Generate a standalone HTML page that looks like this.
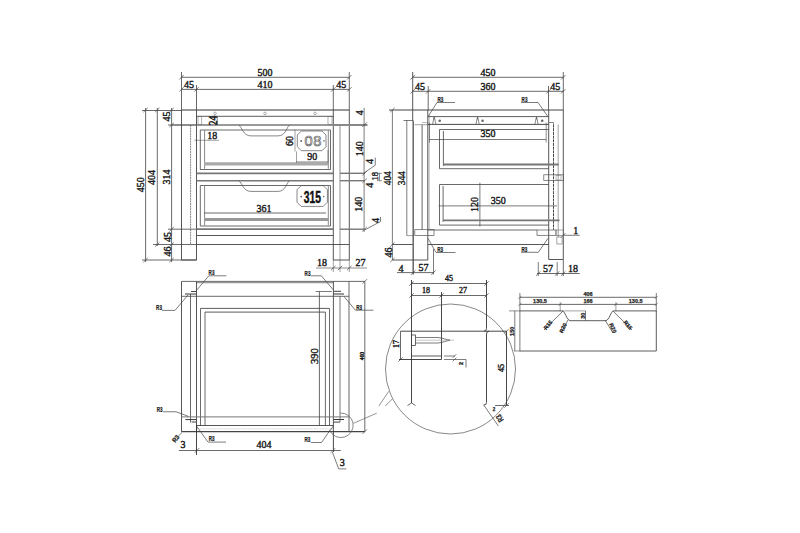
<!DOCTYPE html>
<html><head><meta charset="utf-8"><style>
html,body{margin:0;padding:0;background:#fff;width:800px;height:533px;overflow:hidden}
svg{display:block}
.t{font-family:"Liberation Serif",serif;fill:#1a1a1a;stroke:#1a1a1a;stroke-width:0.4px}
.r{font-family:"Liberation Sans",sans-serif;font-weight:bold;fill:#222;stroke:#222;stroke-width:0.25px}
.b{font-family:"Liberation Sans",sans-serif;font-weight:bold;fill:#111}
</style></head><body>
<svg width="800" height="533" viewBox="0 0 800 533">
<rect width="800" height="533" fill="#fff"/>
<line x1="181.5" y1="77.3" x2="349.3" y2="77.3" stroke="#444" stroke-width="0.8"/>
<line x1="181.5" y1="89.4" x2="349.3" y2="89.4" stroke="#444" stroke-width="0.8"/>
<line x1="196.5" y1="85" x2="196.5" y2="110" stroke="#444" stroke-width="0.8"/>
<line x1="333.3" y1="85" x2="333.3" y2="110" stroke="#444" stroke-width="0.8"/>
<line x1="181.5" y1="72" x2="181.5" y2="110" stroke="#444" stroke-width="0.8"/>
<line x1="349.3" y1="72" x2="349.3" y2="110" stroke="#444" stroke-width="0.8"/>
<line x1="179.3" y1="79.5" x2="183.7" y2="75.1" stroke="#444" stroke-width="0.7"/>
<line x1="347.1" y1="79.5" x2="351.5" y2="75.1" stroke="#444" stroke-width="0.7"/>
<line x1="179.3" y1="91.60000000000001" x2="183.7" y2="87.2" stroke="#444" stroke-width="0.7"/>
<line x1="194.3" y1="91.60000000000001" x2="198.7" y2="87.2" stroke="#444" stroke-width="0.7"/>
<line x1="331.1" y1="91.60000000000001" x2="335.5" y2="87.2" stroke="#444" stroke-width="0.7"/>
<line x1="347.1" y1="91.60000000000001" x2="351.5" y2="87.2" stroke="#444" stroke-width="0.7"/>
<text class="t" x="265" y="72.6" font-size="10" text-anchor="middle" dominant-baseline="central">500</text>
<text class="t" x="189" y="84.5" font-size="10" text-anchor="middle" dominant-baseline="central">45</text>
<text class="t" x="265" y="84.2" font-size="10" text-anchor="middle" dominant-baseline="central">410</text>
<text class="t" x="341.3" y="84.5" font-size="10" text-anchor="middle" dominant-baseline="central">45</text>
<line x1="145.6" y1="108" x2="145.6" y2="262" stroke="#444" stroke-width="0.8"/>
<line x1="157.3" y1="108" x2="157.3" y2="246" stroke="#444" stroke-width="0.8"/>
<line x1="171.6" y1="108" x2="171.6" y2="262" stroke="#444" stroke-width="0.8"/>
<line x1="142" y1="110.5" x2="181.5" y2="110.5" stroke="#444" stroke-width="0.8"/>
<line x1="168" y1="125" x2="196.5" y2="125" stroke="#444" stroke-width="0.8"/>
<line x1="168" y1="229.2" x2="196.5" y2="229.2" stroke="#444" stroke-width="0.8"/>
<line x1="153" y1="244.5" x2="196.5" y2="244.5" stroke="#444" stroke-width="0.8"/>
<line x1="142" y1="260" x2="196.5" y2="260" stroke="#444" stroke-width="0.8"/>
<line x1="143.4" y1="112.2" x2="147.79999999999998" y2="107.8" stroke="#444" stroke-width="0.7"/>
<line x1="143.4" y1="262.2" x2="147.79999999999998" y2="257.8" stroke="#444" stroke-width="0.7"/>
<line x1="155.10000000000002" y1="112.2" x2="159.5" y2="107.8" stroke="#444" stroke-width="0.7"/>
<line x1="155.10000000000002" y1="246.7" x2="159.5" y2="242.3" stroke="#444" stroke-width="0.7"/>
<line x1="169.4" y1="112.2" x2="173.79999999999998" y2="107.8" stroke="#444" stroke-width="0.7"/>
<line x1="169.4" y1="127.2" x2="173.79999999999998" y2="122.8" stroke="#444" stroke-width="0.7"/>
<line x1="169.4" y1="231.39999999999998" x2="173.79999999999998" y2="227.0" stroke="#444" stroke-width="0.7"/>
<line x1="169.4" y1="246.7" x2="173.79999999999998" y2="242.3" stroke="#444" stroke-width="0.7"/>
<line x1="169.4" y1="262.2" x2="173.79999999999998" y2="257.8" stroke="#444" stroke-width="0.7"/>
<text class="t" x="140.8" y="184.7" font-size="10" text-anchor="middle" dominant-baseline="central" transform="rotate(-90 140.8 184.7)">450</text>
<text class="t" x="151.4" y="177.6" font-size="10" text-anchor="middle" dominant-baseline="central" transform="rotate(-90 151.4 177.6)">404</text>
<text class="t" x="166.8" y="177" font-size="10" text-anchor="middle" dominant-baseline="central" transform="rotate(-90 166.8 177)">314</text>
<text class="t" x="166.7" y="116.5" font-size="10" text-anchor="middle" dominant-baseline="central" transform="rotate(-90 166.7 116.5)">45</text>
<text class="t" x="167" y="237" font-size="10" text-anchor="middle" dominant-baseline="central" transform="rotate(-90 167 237)">45</text>
<text class="t" x="167" y="251.5" font-size="10" text-anchor="middle" dominant-baseline="central" transform="rotate(-90 167 251.5)">46</text>
<line x1="181.5" y1="110" x2="349.3" y2="110" stroke="#333" stroke-width="1.0"/>
<line x1="181.5" y1="110" x2="181.5" y2="260" stroke="#444" stroke-width="0.9"/>
<line x1="349.3" y1="110" x2="349.3" y2="260" stroke="#444" stroke-width="0.9"/>
<line x1="196.5" y1="110" x2="196.5" y2="260" stroke="#444" stroke-width="0.9"/>
<line x1="333.3" y1="110" x2="333.3" y2="260" stroke="#444" stroke-width="0.9"/>
<line x1="190.6" y1="125" x2="190.6" y2="244.5" stroke="#555" stroke-width="0.7" stroke-dasharray="2,0.6"/>
<line x1="340" y1="125" x2="340" y2="244.5" stroke="#444" stroke-width="0.6"/>
<line x1="181.5" y1="260" x2="196.5" y2="260" stroke="#444" stroke-width="0.9"/>
<line x1="333.3" y1="260" x2="349.3" y2="260" stroke="#444" stroke-width="0.9"/>
<line x1="196.5" y1="116.3" x2="333.3" y2="116.3" stroke="#333" stroke-width="0.8"/>
<line x1="171.6" y1="125" x2="196.5" y2="125" stroke="#444" stroke-width="0.7"/>
<line x1="196.5" y1="125" x2="333.3" y2="125" stroke="#777" stroke-width="1.4"/>
<line x1="333.3" y1="125" x2="367.5" y2="125" stroke="#888" stroke-width="1.8"/>
<circle cx="215" cy="113.4" r="1.3" fill="none" stroke="#666" stroke-width="0.5"/>
<circle cx="265" cy="113.4" r="1.3" fill="none" stroke="#666" stroke-width="0.5"/>
<circle cx="315" cy="113.4" r="1.3" fill="none" stroke="#666" stroke-width="0.5"/>
<rect x="198" y="116.3" width="3.8000000000000114" height="8.299999999999997" fill="none" stroke="#666" stroke-width="0.5"/>
<rect x="328" y="116.3" width="4" height="8.299999999999997" fill="none" stroke="#666" stroke-width="0.5"/>
<line x1="217.25" y1="116.3" x2="217.25" y2="125" stroke="#444" stroke-width="0.6"/>
<text class="t" transform="translate(212.2,120.6) rotate(-90) scale(1,1.3)" font-size="9.5" text-anchor="middle" dominant-baseline="central">24</text>
<path d="M238.75,125 C242,127 243,135.9 251,135.9 L278,135.9 C286,135.9 286.5,127 289.5,125" fill="none" stroke="#555" stroke-width="0.7"/>
<line x1="200.3" y1="130" x2="330.5" y2="130" stroke="#444" stroke-width="0.8"/>
<line x1="200.3" y1="130" x2="200.3" y2="169.5" stroke="#444" stroke-width="0.8"/>
<line x1="330.5" y1="130" x2="330.5" y2="169.5" stroke="#444" stroke-width="0.8"/>
<line x1="204.6" y1="130" x2="204.6" y2="168.8" stroke="#888" stroke-width="1.0"/>
<line x1="328.3" y1="130" x2="328.3" y2="168.8" stroke="#888" stroke-width="1.0"/>
<line x1="200.3" y1="169.5" x2="330.5" y2="169.5" stroke="#444" stroke-width="0.8"/>
<line x1="204" y1="163.9" x2="328.3" y2="163.9" stroke="#aaa" stroke-width="3.2"/>
<line x1="196.5" y1="173.3" x2="333.3" y2="173.3" stroke="#777" stroke-width="1.8"/>
<line x1="194.3" y1="140.3" x2="219" y2="140.3" stroke="#444" stroke-width="0.5"/>
<text class="t" x="212.3" y="135.6" font-size="10" text-anchor="middle" dominant-baseline="central">18</text>
<path d="M301.3,131 L322,131 L326,135 L326,146.7 L322,150.7 L301.3,150.7 L297.3,146.7 L297.3,135 Z" fill="none" stroke="#555" stroke-width="0.7"/>
<text x="313.3" y="146.2" font-size="14.6" letter-spacing="0.6" text-anchor="middle" fill="#fff" stroke="#555" stroke-width="0.65" style="font-family:'Liberation Sans',sans-serif">08</text>
<circle cx="301.2" cy="140.9" r="0.9" fill="#555"/><circle cx="324" cy="140.9" r="0.8" fill="#777"/>
<line x1="295" y1="129.8" x2="295" y2="151.5" stroke="#444" stroke-width="0.5"/>
<text class="t" x="289.7" y="141" font-size="10" text-anchor="middle" dominant-baseline="central" transform="rotate(-90 289.7 141)">60</text>
<line x1="296.5" y1="161.8" x2="328" y2="161.8" stroke="#444" stroke-width="0.5"/>
<line x1="296.5" y1="151.5" x2="296.5" y2="163" stroke="#444" stroke-width="0.5"/>
<line x1="328" y1="150" x2="328" y2="163" stroke="#444" stroke-width="0.5"/>
<text class="t" x="312.3" y="156" font-size="10" text-anchor="middle" dominant-baseline="central">90</text>
<line x1="196.5" y1="180.7" x2="333.3" y2="180.7" stroke="#777" stroke-width="1.4"/>
<path d="M238.75,180.6 C242,182.6 243,191.4 251,191.4 L278,191.4 C286,191.4 286.5,182.6 289.5,180.6" fill="none" stroke="#555" stroke-width="0.7"/>
<line x1="200.3" y1="185.5" x2="330.5" y2="185.5" stroke="#444" stroke-width="0.8"/>
<line x1="200.3" y1="185.5" x2="200.3" y2="226" stroke="#444" stroke-width="0.8"/>
<line x1="330.5" y1="185.5" x2="330.5" y2="226" stroke="#444" stroke-width="0.8"/>
<line x1="204.6" y1="185.5" x2="204.6" y2="225.3" stroke="#888" stroke-width="1.0"/>
<line x1="328.3" y1="185.5" x2="328.3" y2="225.3" stroke="#888" stroke-width="1.0"/>
<line x1="200.3" y1="226" x2="330.5" y2="226" stroke="#444" stroke-width="0.8"/>
<line x1="204" y1="219.6" x2="328.3" y2="219.6" stroke="#999" stroke-width="3.0"/>
<line x1="204" y1="213" x2="326" y2="213" stroke="#444" stroke-width="0.8"/>
<text class="t" x="264" y="208.2" font-size="10" text-anchor="middle" dominant-baseline="central">361</text>
<line x1="196.5" y1="229.1" x2="333.3" y2="229.1" stroke="#777" stroke-width="1.8"/>
<line x1="196.5" y1="235.5" x2="333.3" y2="235.5" stroke="#444" stroke-width="0.9"/>
<line x1="196.5" y1="244.5" x2="349.3" y2="244.5" stroke="#444" stroke-width="0.9"/>
<path d="M301.2,185.6 L323.2,185.6 L327.4,189.8 L327.4,202.2 L323.2,206.4 L301.2,206.4 L297,202.2 L297,189.8 Z" fill="none" stroke="#555" stroke-width="0.7"/>
<text class="b" transform="translate(312.35,203) scale(0.6,1)" font-size="17.2" text-anchor="middle" stroke="#111" stroke-width="0.5">315</text>
<circle cx="301.2" cy="196.6" r="0.9" fill="#555"/><circle cx="323.7" cy="196.6" r="0.8" fill="#777"/>
<line x1="364.1" y1="108" x2="364.1" y2="232" stroke="#444" stroke-width="0.7"/>
<line x1="340" y1="173.3" x2="364.6" y2="173.3" stroke="#777" stroke-width="1.4"/>
<line x1="340" y1="180.7" x2="364.6" y2="180.7" stroke="#777" stroke-width="1.4"/>
<line x1="340" y1="229.2" x2="364.6" y2="229.2" stroke="#777" stroke-width="1.4"/>
<line x1="362.40000000000003" y1="126.8" x2="366.8" y2="122.39999999999999" stroke="#444" stroke-width="0.7"/>
<line x1="362.40000000000003" y1="175.5" x2="366.8" y2="171.10000000000002" stroke="#444" stroke-width="0.7"/>
<line x1="362.40000000000003" y1="182.89999999999998" x2="366.8" y2="178.5" stroke="#444" stroke-width="0.7"/>
<line x1="362.40000000000003" y1="231.39999999999998" x2="366.8" y2="227.0" stroke="#444" stroke-width="0.7"/>
<text class="t" x="359.5" y="112.8" font-size="10" text-anchor="middle" dominant-baseline="central" transform="rotate(-90 359.5 112.8)">4</text>
<text class="t" x="359.5" y="148.7" font-size="10" text-anchor="middle" dominant-baseline="central" transform="rotate(-90 359.5 148.7)">140</text>
<text class="t" x="358.7" y="204.3" font-size="10" text-anchor="middle" dominant-baseline="central" transform="rotate(-90 358.7 204.3)">140</text>
<polyline points="364.2,172.8 375.25,165.2 375.25,157.6" fill="none" stroke="#444" stroke-width="0.7"/>
<text class="t" x="370" y="161.4" font-size="10" text-anchor="middle" dominant-baseline="central" transform="rotate(-90 370 161.4)">4</text>
<polyline points="364.6,230 380.5,221.5 380.5,217" fill="none" stroke="#444" stroke-width="0.7"/>
<text class="t" x="375.6" y="220.4" font-size="10" text-anchor="middle" dominant-baseline="central" transform="rotate(-90 375.6 220.4)">4</text>
<line x1="379.5" y1="173.3" x2="379.5" y2="180.7" stroke="#444" stroke-width="0.6"/>
<line x1="377" y1="173.3" x2="382" y2="173.3" stroke="#444" stroke-width="0.6"/>
<line x1="377" y1="180.7" x2="382" y2="180.7" stroke="#444" stroke-width="0.6"/>
<text class="t" x="374.6" y="176.2" font-size="8.5" text-anchor="middle" dominant-baseline="central" transform="rotate(-90 374.6 176.2)">18</text>
<text class="t" x="370" y="185.2" font-size="10" text-anchor="middle" dominant-baseline="central" transform="rotate(-90 370 185.2)">4</text>
<line x1="316" y1="268" x2="367" y2="268" stroke="#444" stroke-width="0.6"/>
<line x1="331.1" y1="270.2" x2="335.5" y2="265.8" stroke="#444" stroke-width="0.7"/>
<line x1="337.8" y1="270.2" x2="342.2" y2="265.8" stroke="#444" stroke-width="0.7"/>
<line x1="347.1" y1="270.2" x2="351.5" y2="265.8" stroke="#444" stroke-width="0.7"/>
<line x1="333.3" y1="260" x2="333.3" y2="272" stroke="#444" stroke-width="0.5"/>
<line x1="340" y1="244.5" x2="340" y2="272" stroke="#444" stroke-width="0.5"/>
<line x1="349.3" y1="260" x2="349.3" y2="272" stroke="#444" stroke-width="0.5"/>
<text class="t" x="322" y="262.2" font-size="10" text-anchor="middle" dominant-baseline="central">18</text>
<text class="t" x="360.4" y="262.4" font-size="10" text-anchor="middle" dominant-baseline="central">27</text>
<line x1="412.7" y1="77.3" x2="563.5" y2="77.3" stroke="#444" stroke-width="0.8"/>
<line x1="412.7" y1="91.3" x2="563.5" y2="91.3" stroke="#444" stroke-width="0.8"/>
<line x1="412.7" y1="72" x2="412.7" y2="120.5" stroke="#444" stroke-width="0.9"/>
<line x1="413.2" y1="120.5" x2="413.2" y2="274.5" stroke="#666" stroke-width="1.5"/>
<line x1="563.3" y1="72" x2="563.3" y2="110" stroke="#444" stroke-width="0.8"/>
<line x1="428.2" y1="86" x2="428.2" y2="110" stroke="#444" stroke-width="0.8"/>
<line x1="548.5" y1="86" x2="548.5" y2="110" stroke="#444" stroke-width="0.8"/>
<line x1="410.5" y1="79.5" x2="414.9" y2="75.1" stroke="#444" stroke-width="0.7"/>
<line x1="561.0999999999999" y1="79.5" x2="565.5" y2="75.1" stroke="#444" stroke-width="0.7"/>
<line x1="410.5" y1="93.5" x2="414.9" y2="89.1" stroke="#444" stroke-width="0.7"/>
<line x1="426.0" y1="93.5" x2="430.4" y2="89.1" stroke="#444" stroke-width="0.7"/>
<line x1="546.3" y1="93.5" x2="550.7" y2="89.1" stroke="#444" stroke-width="0.7"/>
<line x1="561.0999999999999" y1="93.5" x2="565.5" y2="89.1" stroke="#444" stroke-width="0.7"/>
<text class="t" x="488" y="72" font-size="10" text-anchor="middle" dominant-baseline="central">450</text>
<text class="t" x="420" y="86.2" font-size="10" text-anchor="middle" dominant-baseline="central">45</text>
<text class="t" x="488" y="86.2" font-size="10" text-anchor="middle" dominant-baseline="central">360</text>
<text class="t" x="555.3" y="86.2" font-size="10" text-anchor="middle" dominant-baseline="central">45</text>
<line x1="389" y1="110" x2="563.3" y2="110" stroke="#444" stroke-width="1.0"/>
<line x1="392.4" y1="110" x2="392.4" y2="260" stroke="#444" stroke-width="0.7"/>
<line x1="406.8" y1="120.2" x2="406.8" y2="235.6" stroke="#444" stroke-width="0.7"/>
<line x1="403.5" y1="120.5" x2="413" y2="120.5" stroke="#444" stroke-width="0.7"/>
<line x1="406.8" y1="235.6" x2="414" y2="235.6" stroke="#444" stroke-width="0.5"/>
<line x1="390.2" y1="112.2" x2="394.59999999999997" y2="107.8" stroke="#444" stroke-width="0.7"/>
<line x1="390.2" y1="246.7" x2="394.59999999999997" y2="242.3" stroke="#444" stroke-width="0.7"/>
<line x1="390.2" y1="262.2" x2="394.59999999999997" y2="257.8" stroke="#444" stroke-width="0.7"/>
<line x1="422.1" y1="124.6" x2="422.1" y2="229.7" stroke="#555" stroke-width="0.9"/>
<line x1="414.6" y1="124.7" x2="428" y2="124.7" stroke="#777" stroke-width="0.7"/>
<line x1="422" y1="122.5" x2="428" y2="122.5" stroke="#777" stroke-width="0.5"/>
<line x1="429.2" y1="115" x2="429.2" y2="229.7" stroke="#777" stroke-width="0.5"/>
<line x1="427.8" y1="110" x2="427.8" y2="260" stroke="#444" stroke-width="0.9"/>
<text class="t" x="388" y="178.2" font-size="9.3" text-anchor="middle" dominant-baseline="central" transform="rotate(-90 388 178.2)">404</text>
<text class="t" x="401.9" y="178.2" font-size="9.3" text-anchor="middle" dominant-baseline="central" transform="rotate(-90 401.9 178.2)">344</text>
<text class="t" x="388.2" y="252.4" font-size="10" text-anchor="middle" dominant-baseline="central" transform="rotate(-90 388.2 252.4)">46</text>
<line x1="392.4" y1="244.5" x2="412.7" y2="244.5" stroke="#444" stroke-width="0.9"/>
<line x1="427.8" y1="244.5" x2="548.7" y2="244.5" stroke="#444" stroke-width="0.9"/>
<line x1="392.4" y1="260" x2="427.8" y2="260" stroke="#444" stroke-width="0.9"/>
<line x1="548.7" y1="110" x2="548.7" y2="259.5" stroke="#444" stroke-width="0.9"/>
<line x1="563.3" y1="110" x2="563.3" y2="259.5" stroke="#444" stroke-width="0.9"/>
<line x1="553.5" y1="124.5" x2="553.5" y2="229.8" stroke="#333" stroke-width="0.9" stroke-dasharray="3,0.7"/>
<line x1="558.2" y1="124.5" x2="558.2" y2="237" stroke="#888" stroke-width="0.8"/>
<polyline points="548.7,122.5 553.5,122.5 553.5,124.5" fill="none" stroke="#555" stroke-width="0.7"/>
<line x1="548.7" y1="259.5" x2="563.3" y2="259.5" stroke="#444" stroke-width="0.9"/>
<line x1="428" y1="116.6" x2="548.7" y2="116.6" stroke="#333" stroke-width="0.8"/>
<line x1="428" y1="124.4" x2="548.7" y2="124.4" stroke="#333" stroke-width="0.9"/>
<circle cx="439.7" cy="120.8" r="1.3" fill="#666"/>
<circle cx="482.6" cy="120.8" r="1.3" fill="#666"/>
<circle cx="542.2" cy="120.8" r="1.3" fill="#666"/>
<polyline points="432.59999999999997,124.4 433.59999999999997,119 434.2,117 434.8,119 435.8,124.4" fill="none" stroke="#555" stroke-width="0.7"/>
<line x1="434.2" y1="117" x2="434.2" y2="119.5" stroke="#555" stroke-width="0.6"/>
<polyline points="476.0,124.4 477.0,119 477.6,117 478.20000000000005,119 479.20000000000005,124.4" fill="none" stroke="#555" stroke-width="0.7"/>
<line x1="477.6" y1="117" x2="477.6" y2="119.5" stroke="#555" stroke-width="0.6"/>
<polyline points="534.9,124.4 535.9,119 536.5,117 537.1,119 538.1,124.4" fill="none" stroke="#555" stroke-width="0.7"/>
<line x1="536.5" y1="117" x2="536.5" y2="119.5" stroke="#555" stroke-width="0.6"/>
<text class="r" transform="translate(440.3,99.3) scale(0.65,1)" font-size="7" text-anchor="middle" dominant-baseline="central">R3</text>
<polyline points="455,102.5 437,102.5 428.5,116" fill="none" stroke="#444" stroke-width="0.7"/>
<text class="r" transform="translate(524.5,99.3) scale(0.65,1)" font-size="7" text-anchor="middle" dominant-baseline="central">R3</text>
<polyline points="521,102.5 538,102.5 547.5,116" fill="none" stroke="#444" stroke-width="0.7"/>
<line x1="439.5" y1="129.5" x2="548.7" y2="129.5" stroke="#444" stroke-width="0.8"/>
<line x1="439.5" y1="129.5" x2="439.5" y2="168.7" stroke="#444" stroke-width="0.8"/>
<line x1="443.4" y1="131" x2="443.4" y2="166" stroke="#444" stroke-width="0.8"/>
<line x1="429.5" y1="139.5" x2="546.2" y2="139.5" stroke="#444" stroke-width="0.7"/>
<text class="t" x="488" y="133.7" font-size="10" text-anchor="middle" dominant-baseline="central">350</text>
<line x1="429.5" y1="122.5" x2="429.5" y2="142.5" stroke="#444" stroke-width="0.6"/>
<line x1="546.2" y1="122.5" x2="546.2" y2="142.5" stroke="#444" stroke-width="0.6"/>
<line x1="443" y1="164.5" x2="558.7" y2="164.5" stroke="#777" stroke-width="1.8"/>
<line x1="439.5" y1="168.7" x2="548.7" y2="168.7" stroke="#444" stroke-width="0.8"/>
<rect x="543.8" y="174.8" width="19.5" height="5.799999999999983" fill="none" stroke="#555" stroke-width="0.7"/>
<rect x="556" y="175.5" width="5" height="4.5" fill="none" stroke="#777" stroke-width="0.5"/>
<line x1="439.5" y1="184.5" x2="548.7" y2="184.5" stroke="#444" stroke-width="0.8"/>
<line x1="439.5" y1="184.5" x2="439.5" y2="225.1" stroke="#444" stroke-width="0.8"/>
<line x1="443.1" y1="186" x2="443.1" y2="222" stroke="#444" stroke-width="0.8"/>
<line x1="438.7" y1="205.9" x2="556.9" y2="205.9" stroke="#444" stroke-width="0.7"/>
<text class="t" x="498.2" y="200.6" font-size="10" text-anchor="middle" dominant-baseline="central">350</text>
<line x1="479.9" y1="182.7" x2="479.9" y2="226.5" stroke="#444" stroke-width="0.7"/>
<text class="t" x="474.6" y="204.6" font-size="10" text-anchor="middle" dominant-baseline="central" transform="rotate(-90 474.6 204.6)">120</text>
<line x1="443" y1="220.4" x2="559.5" y2="220.4" stroke="#777" stroke-width="1.8"/>
<line x1="439.5" y1="225.1" x2="548.7" y2="225.1" stroke="#444" stroke-width="0.8"/>
<rect x="414.8" y="229.7" width="19.19999999999999" height="5.900000000000006" fill="none" stroke="#555" stroke-width="0.7"/>
<rect x="537" y="230" width="19" height="5.300000000000011" fill="none" stroke="#555" stroke-width="0.7"/>
<rect x="556" y="230" width="7.2999999999999545" height="5.300000000000011" fill="none" stroke="#666" stroke-width="0.6"/>
<rect x="556.9" y="237" width="5.2000000000000455" height="7" fill="none" stroke="#666" stroke-width="0.6"/>
<line x1="428" y1="230" x2="537" y2="230" stroke="#444" stroke-width="0.8"/>
<text class="r" transform="translate(440.2,249.8) scale(0.65,1)" font-size="7" text-anchor="middle" dominant-baseline="central">R3</text>
<polyline points="428,238.4 436,252.5 455.5,252.5" fill="none" stroke="#444" stroke-width="0.7"/>
<text class="r" transform="translate(524.3,249.9) scale(0.65,1)" font-size="7" text-anchor="middle" dominant-baseline="central">R3</text>
<polyline points="548,238.3 538.3,252.3 521,252.3" fill="none" stroke="#444" stroke-width="0.7"/>
<line x1="563.3" y1="235.3" x2="579.7" y2="235.3" stroke="#444" stroke-width="0.7"/>
<line x1="561.0999999999999" y1="237.5" x2="565.5" y2="233.10000000000002" stroke="#444" stroke-width="0.7"/>
<text class="t" x="575.8" y="230.2" font-size="10" text-anchor="middle" dominant-baseline="central">1</text>
<line x1="397" y1="272.6" x2="434" y2="272.6" stroke="#444" stroke-width="0.8"/>
<line x1="433.5" y1="249" x2="433.5" y2="274.5" stroke="#444" stroke-width="0.7"/>
<line x1="411.0" y1="274.8" x2="415.4" y2="270.40000000000003" stroke="#444" stroke-width="0.7"/>
<line x1="431.3" y1="274.8" x2="435.7" y2="270.40000000000003" stroke="#444" stroke-width="0.7"/>
<text class="t" x="401" y="268" font-size="10" text-anchor="middle" dominant-baseline="central">4</text>
<text class="t" x="423.6" y="267.8" font-size="10" text-anchor="middle" dominant-baseline="central">57</text>
<line x1="537" y1="273.5" x2="579.7" y2="273.5" stroke="#444" stroke-width="0.8"/>
<line x1="538.3" y1="262" x2="538.3" y2="276" stroke="#444" stroke-width="0.7"/>
<line x1="557.2" y1="262" x2="557.2" y2="276" stroke="#444" stroke-width="0.7"/>
<line x1="563.3" y1="259.5" x2="563.3" y2="276" stroke="#444" stroke-width="0.8"/>
<line x1="536.0999999999999" y1="275.7" x2="540.5" y2="271.3" stroke="#444" stroke-width="0.7"/>
<line x1="555.0" y1="275.7" x2="559.4000000000001" y2="271.3" stroke="#444" stroke-width="0.7"/>
<line x1="561.0999999999999" y1="275.7" x2="565.5" y2="271.3" stroke="#444" stroke-width="0.7"/>
<text class="t" x="548" y="268.6" font-size="10" text-anchor="middle" dominant-baseline="central">57</text>
<text class="t" x="573" y="268.8" font-size="10" text-anchor="middle" dominant-baseline="central">18</text>
<line x1="181.5" y1="281.4" x2="364.8" y2="281.4" stroke="#444" stroke-width="0.8"/>
<line x1="196.5" y1="282.6" x2="333.4" y2="282.6" stroke="#999" stroke-width="1.4"/>
<line x1="181.5" y1="281.4" x2="181.5" y2="431.6" stroke="#444" stroke-width="0.9"/>
<line x1="349" y1="281.4" x2="349" y2="431.6" stroke="#666" stroke-width="1.0"/>
<line x1="196.5" y1="281.4" x2="196.5" y2="431.6" stroke="#444" stroke-width="0.9"/>
<line x1="333.4" y1="281.4" x2="333.4" y2="431.6" stroke="#444" stroke-width="0.9"/>
<line x1="190.5" y1="294" x2="190.5" y2="422.5" stroke="#444" stroke-width="0.8"/>
<line x1="340" y1="296" x2="340" y2="422" stroke="#777" stroke-width="1.0"/>
<line x1="181.5" y1="296.3" x2="349" y2="296.3" stroke="#444" stroke-width="0.8"/>
<line x1="200.5" y1="308.4" x2="329.5" y2="308.4" stroke="#333" stroke-width="0.8"/>
<line x1="205" y1="312.1" x2="325.4" y2="312.1" stroke="#333" stroke-width="0.8"/>
<line x1="200.5" y1="308.4" x2="200.5" y2="425.5" stroke="#444" stroke-width="0.8"/>
<line x1="329.5" y1="308.4" x2="329.5" y2="425.5" stroke="#444" stroke-width="0.8"/>
<line x1="205" y1="312.1" x2="205" y2="425.5" stroke="#444" stroke-width="0.8"/>
<line x1="325.4" y1="312.1" x2="325.4" y2="425.5" stroke="#444" stroke-width="0.8"/>
<line x1="181.5" y1="416.9" x2="349" y2="416.9" stroke="#777" stroke-width="1.0"/>
<line x1="196.5" y1="425.5" x2="333.4" y2="425.5" stroke="#444" stroke-width="0.9"/>
<line x1="196.5" y1="428.9" x2="333.4" y2="428.9" stroke="#aaa" stroke-width="0.5" stroke-dasharray="2,1"/>
<line x1="181.5" y1="431.6" x2="364.8" y2="431.6" stroke="#444" stroke-width="1.1"/>
<line x1="319.4" y1="291.5" x2="319.4" y2="425.5" stroke="#444" stroke-width="0.8"/>
<line x1="315.6" y1="291.5" x2="331.8" y2="291.5" stroke="#444" stroke-width="0.7"/>
<text class="t" x="314" y="356" font-size="10.5" text-anchor="middle" dominant-baseline="central" transform="rotate(-90 314 356)">390</text>
<line x1="364.8" y1="281.4" x2="364.8" y2="431.6" stroke="#444" stroke-width="0.8"/>
<line x1="362.6" y1="283.59999999999997" x2="367.0" y2="279.2" stroke="#444" stroke-width="0.7"/>
<line x1="362.6" y1="433.8" x2="367.0" y2="429.40000000000003" stroke="#444" stroke-width="0.7"/>
<text class="t" x="361.5" y="356" font-size="5.5" text-anchor="middle" dominant-baseline="central" transform="rotate(-90 361.5 356)">460</text>
<line x1="179" y1="450.5" x2="340.8" y2="450.5" stroke="#444" stroke-width="0.8"/>
<line x1="196.5" y1="425" x2="196.5" y2="455" stroke="#333" stroke-width="0.9"/>
<line x1="333.4" y1="431.6" x2="333.4" y2="452" stroke="#333" stroke-width="0.9"/>
<line x1="194.8" y1="452.59999999999997" x2="199.2" y2="448.2" stroke="#444" stroke-width="0.7"/>
<line x1="330.8" y1="452.59999999999997" x2="335.2" y2="448.2" stroke="#444" stroke-width="0.7"/>
<text class="t" x="264" y="444.8" font-size="10" text-anchor="middle" dominant-baseline="central">404</text>
<text class="t" x="183" y="444.8" font-size="10" text-anchor="middle" dominant-baseline="central">3</text>
<polyline points="332.4,452 338.7,468.9 346.4,468.9" fill="none" stroke="#444" stroke-width="0.7"/>
<text class="t" x="342.3" y="462.5" font-size="10" text-anchor="middle" dominant-baseline="central">3</text>
<text class="r" transform="translate(175.4,438.4) rotate(-52) scale(0.9,1)" font-size="6.5" text-anchor="middle" dominant-baseline="central">R3</text>
<polyline points="182,432.5 178.4,436.1" fill="none" stroke="#444" stroke-width="0.7"/>
<text class="r" transform="translate(211.5,272.8) scale(0.65,1)" font-size="7" text-anchor="middle" dominant-baseline="central">R3</text>
<polyline points="226.4,275.8 208.8,275.8 196.5,290.4" fill="none" stroke="#444" stroke-width="0.7"/>
<text class="r" transform="translate(159,307.8) scale(0.65,1)" font-size="7" text-anchor="middle" dominant-baseline="central">R3</text>
<polyline points="162,310.4 175,310.4 188,295" fill="none" stroke="#444" stroke-width="0.7"/>
<text class="r" transform="translate(307.5,273.2) scale(0.65,1)" font-size="7" text-anchor="middle" dominant-baseline="central">R3</text>
<polyline points="310.5,275.8 321.3,275.8 333.2,289.7" fill="none" stroke="#444" stroke-width="0.7"/>
<text class="r" transform="translate(359.1,307.4) scale(0.65,1)" font-size="7" text-anchor="middle" dominant-baseline="central">R3</text>
<polyline points="344.1,296.6 355.4,310.2 373.5,310.2" fill="none" stroke="#444" stroke-width="0.7"/>
<text class="r" transform="translate(159.7,409.4) scale(0.65,1)" font-size="7" text-anchor="middle" dominant-baseline="central">R3</text>
<polyline points="163,411.75 176,411.75 188.5,416.4" fill="none" stroke="#444" stroke-width="0.7"/>
<text class="r" transform="translate(211.7,439.1) scale(0.65,1)" font-size="7" text-anchor="middle" dominant-baseline="central">R3</text>
<polyline points="196.5,426 208,442.1 226,442.1" fill="none" stroke="#444" stroke-width="0.7"/>
<text class="r" transform="translate(307.3,439.6) scale(0.65,1)" font-size="7" text-anchor="middle" dominant-baseline="central">R3</text>
<polyline points="310.7,442.5 321.6,442.5 329.1,431.6 333.4,426" fill="none" stroke="#444" stroke-width="0.7"/>
<line x1="185" y1="294" x2="196.5" y2="294" stroke="#333" stroke-width="1.0"/>
<line x1="191" y1="291.5" x2="196.5" y2="291.5" stroke="#444" stroke-width="1.0"/>
<line x1="333.4" y1="294" x2="344" y2="294" stroke="#333" stroke-width="1.0"/>
<line x1="333.4" y1="291.3" x2="341" y2="291.3" stroke="#444" stroke-width="1.0"/>
<line x1="185.4" y1="419.6" x2="196.5" y2="419.6" stroke="#333" stroke-width="1.0"/>
<line x1="191.6" y1="422" x2="196.5" y2="422" stroke="#444" stroke-width="1.0"/>
<line x1="333.4" y1="419.5" x2="344" y2="419.5" stroke="#333" stroke-width="1.0"/>
<line x1="333.4" y1="422.1" x2="340" y2="422.1" stroke="#444" stroke-width="1.0"/>
<path d="M340.3,413 A12.3,12.3 0 1 1 329.5,430" fill="none" stroke="#555" stroke-width="0.7"/>
<polyline points="353.4,423.3 376.7,413.2" fill="none" stroke="#666" stroke-width="0.7"/>
<polyline points="378.9,406 388.7,391.4" fill="none" stroke="#666" stroke-width="0.7"/>
<polyline points="385.3,406 392.4,398.9" fill="none" stroke="#666" stroke-width="0.7"/>
<circle cx="450.5" cy="369" r="65" fill="none" stroke="#555" stroke-width="0.7"/>
<line x1="411.5" y1="283.5" x2="486.5" y2="283.5" stroke="#444" stroke-width="0.8"/>
<line x1="411.5" y1="295.5" x2="486.5" y2="295.5" stroke="#444" stroke-width="0.8"/>
<line x1="409.3" y1="285.7" x2="413.7" y2="281.3" stroke="#444" stroke-width="0.7"/>
<line x1="484.3" y1="285.7" x2="488.7" y2="281.3" stroke="#444" stroke-width="0.7"/>
<line x1="409.3" y1="297.7" x2="413.7" y2="293.3" stroke="#444" stroke-width="0.7"/>
<line x1="439.3" y1="297.7" x2="443.7" y2="293.3" stroke="#444" stroke-width="0.7"/>
<line x1="484.3" y1="297.7" x2="488.7" y2="293.3" stroke="#444" stroke-width="0.7"/>
<text class="t" x="449" y="278.8" font-size="8" text-anchor="middle" dominant-baseline="central">45</text>
<text class="t" x="426" y="290.2" font-size="8" text-anchor="middle" dominant-baseline="central">18</text>
<text class="t" x="463" y="290.2" font-size="8" text-anchor="middle" dominant-baseline="central">27</text>
<line x1="411.5" y1="280" x2="411.5" y2="403" stroke="#333" stroke-width="0.9"/>
<line x1="441.5" y1="292" x2="441.5" y2="359.5" stroke="#333" stroke-width="0.9"/>
<line x1="486.5" y1="280" x2="486.5" y2="328.5" stroke="#333" stroke-width="0.9"/>
<path d="M486.5,328.5 Q486.5,331.2 484,331.2 M486.5,334 Q486.5,331.2 489,331.2 M486.5,334 L486.5,402.5 Q486.5,405 483.7,405" fill="none" stroke="#333" stroke-width="0.9"/>
<polyline points="407.5,405.5 411.5,403 415.5,405.5" fill="none" stroke="#444" stroke-width="0.8"/>
<line x1="400.5" y1="331.2" x2="506.5" y2="331.2" stroke="#333" stroke-width="0.9"/>
<line x1="400.5" y1="331.2" x2="400.5" y2="359.5" stroke="#444" stroke-width="0.8"/>
<line x1="398.3" y1="361.7" x2="402.7" y2="357.3" stroke="#444" stroke-width="0.7"/>
<text class="t" x="396.3" y="344" font-size="8" text-anchor="middle" dominant-baseline="central" transform="rotate(-90 396.3 344)">17</text>
<line x1="411.5" y1="356" x2="441.5" y2="356" stroke="#333" stroke-width="0.8"/>
<line x1="399" y1="359.5" x2="441.5" y2="359.5" stroke="#333" stroke-width="0.9"/>
<rect x="411.5" y="335" width="4.0" height="10.5" fill="none" stroke="#444" stroke-width="0.8"/>
<path d="M415.5,337.5 L438,337.5 C443,338 446,339.5 450,340.2 C446,341 443,342.5 438,343 L415.5,343" fill="none" stroke="#444" stroke-width="0.7"/>
<line x1="415.5" y1="340.2" x2="454" y2="340.2" stroke="#888" stroke-width="0.5"/>
<line x1="444" y1="356" x2="455" y2="356" stroke="#444" stroke-width="0.7"/>
<line x1="444" y1="359.5" x2="455" y2="359.5" stroke="#444" stroke-width="0.7"/>
<line x1="452.7" y1="357.8" x2="456.3" y2="354.2" stroke="#444" stroke-width="0.7"/>
<line x1="452.7" y1="361.3" x2="456.3" y2="357.7" stroke="#444" stroke-width="0.7"/>
<text class="r" x="461" y="363.5" font-size="5.5" text-anchor="middle" dominant-baseline="central" transform="rotate(-90 461 363.5)">2</text>
<polyline points="455,359.5 466,359.5 466,367.5" fill="none" stroke="#444" stroke-width="0.7"/>
<line x1="506.5" y1="331.2" x2="506.5" y2="405.5" stroke="#333" stroke-width="0.9"/>
<line x1="504.3" y1="333.4" x2="508.7" y2="329.0" stroke="#444" stroke-width="0.7"/>
<line x1="504.3" y1="407.7" x2="508.7" y2="403.3" stroke="#444" stroke-width="0.7"/>
<line x1="495" y1="405.5" x2="509" y2="405.5" stroke="#444" stroke-width="0.8"/>
<text class="t" x="501.3" y="368" font-size="8" text-anchor="middle" dominant-baseline="central" transform="rotate(-90 501.3 368)">45</text>
<polyline points="483.7,405 498.4,426" fill="none" stroke="#444" stroke-width="0.7"/>
<text class="r" transform="translate(499.6,418.4) rotate(-125) scale(0.7,1)" font-size="8" text-anchor="middle" dominant-baseline="central">R3</text>
<text class="r" x="494" y="409.8" font-size="4.5" text-anchor="middle" dominant-baseline="central">2</text>
<line x1="519.9" y1="297.3" x2="656.3" y2="297.3" stroke="#444" stroke-width="0.8"/>
<line x1="519.9" y1="304.4" x2="656.3" y2="304.4" stroke="#444" stroke-width="0.8"/>
<line x1="519.9" y1="293" x2="519.9" y2="351.2" stroke="#444" stroke-width="0.7"/>
<line x1="656.3" y1="293" x2="656.3" y2="311.2" stroke="#444" stroke-width="0.7"/>
<line x1="560.2" y1="302" x2="560.2" y2="311.2" stroke="#444" stroke-width="0.5"/>
<line x1="615.9" y1="302" x2="615.9" y2="311.2" stroke="#444" stroke-width="0.5"/>
<line x1="518.3" y1="299.0" x2="521.5" y2="295.79999999999995" stroke="#444" stroke-width="0.5"/>
<line x1="654.6999999999999" y1="299.0" x2="657.9" y2="295.79999999999995" stroke="#444" stroke-width="0.5"/>
<line x1="518.3" y1="306.0" x2="521.5" y2="302.79999999999995" stroke="#444" stroke-width="0.5"/>
<line x1="558.6" y1="306.0" x2="561.8000000000001" y2="302.79999999999995" stroke="#444" stroke-width="0.5"/>
<line x1="614.3" y1="306.0" x2="617.5" y2="302.79999999999995" stroke="#444" stroke-width="0.5"/>
<line x1="654.6999999999999" y1="306.0" x2="657.9" y2="302.79999999999995" stroke="#444" stroke-width="0.5"/>
<text class="r" x="588" y="294.3" font-size="5.5" text-anchor="middle" dominant-baseline="central">406</text>
<text class="r" x="540" y="301" font-size="5.5" text-anchor="middle" dominant-baseline="central">130.5</text>
<text class="r" x="588" y="301" font-size="5.5" text-anchor="middle" dominant-baseline="central">166</text>
<text class="r" x="635.7" y="301" font-size="5.5" text-anchor="middle" dominant-baseline="central">130.5</text>
<path d="M519.9,310.9 L562.5,310.9 C565,311.5 566.5,319.5 570,320.7 L606,320.7 C609.5,319.5 611,311.5 613.2,310.9 L656.3,310.9" fill="none" stroke="#333" stroke-width="0.8"/>
<line x1="562.5" y1="310.9" x2="586" y2="310.9" stroke="#666" stroke-width="0.6"/>
<line x1="519.9" y1="351" x2="656.3" y2="351" stroke="#333" stroke-width="0.8"/>
<line x1="656.3" y1="310.9" x2="656.3" y2="351" stroke="#333" stroke-width="0.8"/>
<line x1="514.8" y1="310.9" x2="514.8" y2="351" stroke="#444" stroke-width="0.7"/>
<line x1="509" y1="310.9" x2="520" y2="310.9" stroke="#444" stroke-width="0.6"/>
<line x1="514" y1="351" x2="520" y2="351" stroke="#444" stroke-width="0.6"/>
<text class="r" x="512.2" y="331.3" font-size="5.5" text-anchor="middle" dominant-baseline="central" transform="rotate(-90 512.2 331.3)">150</text>
<line x1="585.5" y1="310.9" x2="585.5" y2="320.7" stroke="#444" stroke-width="0.7"/>
<text class="r" x="582.6" y="315.8" font-size="5.5" text-anchor="middle" dominant-baseline="central" transform="rotate(-90 582.6 315.8)">30</text>
<polyline points="563,311 544,330" fill="none" stroke="#444" stroke-width="0.7"/>
<text class="r" x="548" y="325" font-size="5.5" text-anchor="middle" dominant-baseline="central" transform="rotate(-50 548 325)">R15</text>
<polyline points="568,320 561,333" fill="none" stroke="#444" stroke-width="0.7"/>
<text class="r" x="563" y="328" font-size="5.5" text-anchor="middle" dominant-baseline="central" transform="rotate(-65 563 328)">R20</text>
<polyline points="605,320 613,333" fill="none" stroke="#444" stroke-width="0.7"/>
<text class="r" x="613" y="328" font-size="5.5" text-anchor="middle" dominant-baseline="central" transform="rotate(65 613 328)">R20</text>
<polyline points="613,311 632,330" fill="none" stroke="#444" stroke-width="0.7"/>
<text class="r" x="628" y="325" font-size="5.5" text-anchor="middle" dominant-baseline="central" transform="rotate(50 628 325)">R15</text>
</svg></body></html>
